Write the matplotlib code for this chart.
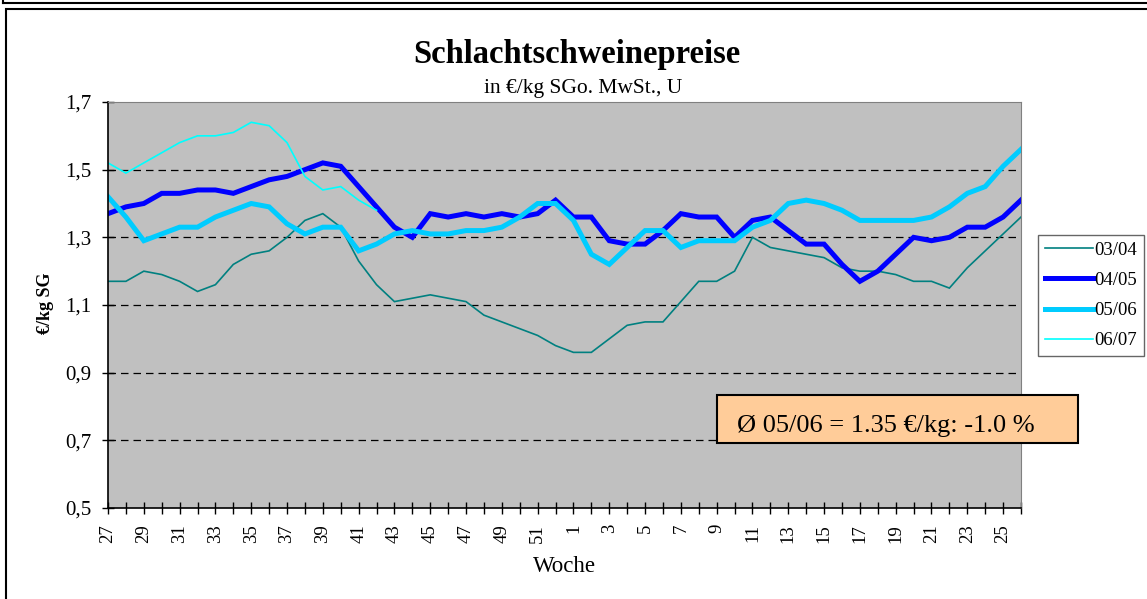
import numpy as np
import matplotlib
matplotlib.use("Agg")
from matplotlib import pyplot as plt
from matplotlib.patches import Rectangle
from matplotlib.lines import Line2D

plt.rcParams['font.family'] = ['Liberation Serif', 'DejaVu Serif']

# Wochen 27..52 und 1..26
wochen = ['27', '28', '29', '30', '31', '32', '33', '34', '35', '36', '37', '38', '39',
          '40', '41', '42', '43', '44', '45', '46', '47', '48', '49', '50', '51', '52',
          '1', '2', '3', '4', '5', '6', '7', '8', '9', '10', '11', '12', '13',
          '14', '15', '16', '17', '18', '19', '20', '21', '22', '23', '24', '25', '26']

s0304 = [1.17, 1.17, 1.20, 1.19, 1.17, 1.14, 1.16, 1.22, 1.25, 1.26, 1.30, 1.35, 1.37,
         1.33, 1.23, 1.16, 1.11, 1.12, 1.13, 1.12, 1.11, 1.07, 1.05, 1.03, 1.01, 0.98,
         0.96, 0.96, 1.00, 1.04, 1.05, 1.05, 1.11, 1.17, 1.17, 1.20, 1.30, 1.27, 1.26,
         1.25, 1.24, 1.21, 1.20, 1.20, 1.19, 1.17, 1.17, 1.15, 1.21, 1.26, 1.31, 1.36]
s0405 = [1.37, 1.39, 1.40, 1.43, 1.43, 1.44, 1.44, 1.43, 1.45, 1.47, 1.48, 1.50, 1.52,
         1.51, 1.45, 1.39, 1.33, 1.30, 1.37, 1.36, 1.37, 1.36, 1.37, 1.36, 1.37, 1.41,
         1.36, 1.36, 1.29, 1.28, 1.28, 1.32, 1.37, 1.36, 1.36, 1.30, 1.35, 1.36, 1.32,
         1.28, 1.28, 1.22, 1.17, 1.20, 1.25, 1.30, 1.29, 1.30, 1.33, 1.33, 1.36, 1.41]
s0506 = [1.42, 1.36, 1.29, 1.31, 1.33, 1.33, 1.36, 1.38, 1.40, 1.39, 1.34, 1.31, 1.33,
         1.33, 1.26, 1.28, 1.31, 1.32, 1.31, 1.31, 1.32, 1.32, 1.33, 1.36, 1.40, 1.40,
         1.35, 1.25, 1.22, 1.27, 1.32, 1.32, 1.27, 1.29, 1.29, 1.29, 1.33, 1.35, 1.40,
         1.41, 1.40, 1.38, 1.35, 1.35, 1.35, 1.35, 1.36, 1.39, 1.43, 1.45, 1.51, 1.56]
s0607 = [1.52, 1.49, 1.52, 1.55, 1.58, 1.60, 1.60, 1.61, 1.64, 1.63, 1.58, 1.48, 1.44,
         1.45, 1.41, 1.38]

namen = ['03/04', '04/05', '05/06', '06/07']
farben = ['#008080', '#0000FF', '#00CCFF', '#00FFFF']
breiten = [1.2, 3.6, 3.6, 1.2]

W, H = 1147, 599
fig = plt.figure(figsize=(W / 100, H / 100), dpi=100)
fig.patch.set_facecolor('white')

# Rahmen
fig.add_artist(Rectangle((6 / W, 1 - 1.2), 1.5, 1.2 - 9 / H, transform=fig.transFigure,
                         fill=False, edgecolor='black', linewidth=1.5))
fig.add_artist(Line2D([3 / W, 1], [1 - 2.5 / H, 1 - 2.5 / H], transform=fig.transFigure,
                      color='black', linewidth=1.5))
fig.add_artist(Line2D([3 / W, 3 / W], [1, 1 - 2.5 / H], transform=fig.transFigure,
                      color='black', linewidth=1.5))

ax = fig.add_axes([108 / W, 1 - 508 / H, (1021 - 108) / W, 406 / H])
ax.set_facecolor('#C0C0C0')

x = np.arange(len(wochen))
serien = [s0304, s0405, s0506, s0607]
for s, n, c, lw in zip(serien, namen, farben, breiten):
    ax.plot(x[:len(s)], s, color=c, linewidth=lw, label=n, solid_joinstyle='miter')

ax.set_xlim(0, len(wochen) - 1)
ax.set_ylim(0.5, 1.7)
yt = [0.5, 0.7, 0.9, 1.1, 1.3, 1.5, 1.7]
ax.set_yticks(yt)
ax.set_yticklabels([('%.1f' % v).replace('.', ',') for v in yt], fontsize=15)
ax.set_xticks(x)
ax.set_xticklabels([w if i % 2 == 0 else '' for i, w in enumerate(wochen)],
                   rotation=90, fontsize=13.5)
ax.tick_params(axis='both', direction='inout', length=9, width=1, color='black')
ax.tick_params(axis='x', pad=7)
ax.tick_params(axis='y', pad=7.5)

for v in [0.7, 0.9, 1.1, 1.3, 1.5]:
    ax.axhline(v, color='black', linewidth=0.9, dashes=(6, 4), zorder=1)

for sp in ['top', 'right']:
    ax.spines[sp].set_color('#808080')
for sp in ['left', 'bottom']:
    ax.spines[sp].set_color('black')
    ax.spines[sp].set_linewidth(1.2)

ax.set_xlabel('Woche', fontsize=16.5)
ax.xaxis.label.set_va('center')
ax.xaxis.set_label_coords(0.5005, -0.145)
ax.set_ylabel('€/kg SG', fontsize=13, fontweight='bold')
ax.yaxis.label.set_va('center')
ax.yaxis.set_label_coords(-0.069, 0.505)

fig.text(577 / W, 1 - 55 / H, 'Schlachtschweinepreise', ha='center', va='center',
         fontsize=23.5, fontweight='bold')
fig.text(583 / W, 1 - 88 / H, 'in €/kg SGo. MwSt., U', ha='center', va='center',
         fontsize=15.5)

leg = fig.legend(loc='upper left', bbox_to_anchor=(1038 / W, 1 - 235 / H),
                 bbox_transform=fig.transFigure, fontsize=13.5, frameon=True,
                 fancybox=False, edgecolor='#404040', handlelength=2.56,
                 handletextpad=0.1, borderpad=0.35, labelspacing=0.7,
                 borderaxespad=0)
leg.get_frame().set_linewidth(1.0)

fig.add_artist(Rectangle((717 / W, 1 - 443 / H), (1078 - 717) / W, 48 / H,
                         transform=fig.transFigure, facecolor='#FFCC99',
                         edgecolor='black', linewidth=1.5))
fig.text(737 / W, 1 - 432 / H, 'Ø 05/06 = 1.35 €/kg: -1.0 %', ha='left', va='baseline',
         fontsize=19)

fig.savefig('out.png', dpi=100)
